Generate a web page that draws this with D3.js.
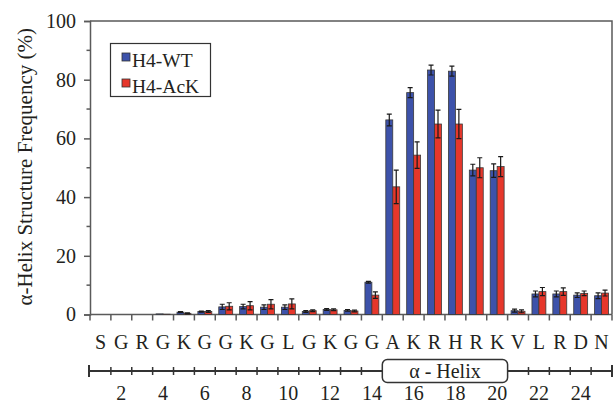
<!DOCTYPE html>
<html>
<head>
<meta charset="utf-8">
<script src="https://cdn.jsdelivr.net/npm/d3@7"></script>
<style>
  body { margin: 0; background: #fff; }
  text { font-family: "Liberation Serif", "Times New Roman", serif; fill: #231f20; }
</style>
</head>
<body>
<script>
var width = 614;
var height = 404;

// residues of the H4 tail, 1..25
var residues = ["S","G","R","G","K","G","G","K","G","L","G","K","G","G","A","K","R","H","R","K","V","L","R","D","N"];
var seriesNames = ["H4-WT", "H4-AcK"];
var wtValues  = [0, 0, 0, 0.2, 0.8, 1.0, 2.6, 2.7, 2.5, 2.5, 1.0, 1.7, 1.4, 11.0, 66.3, 75.6, 83.3, 82.9, 49.2, 49.0, 1.3, 7.0, 7.0, 6.6, 6.4];
var wtErrors  = [0, 0, 0, 0, 0.2, 0.2, 0.9, 0.8, 0.8, 0.8, 0.3, 0.3, 0.3, 0.3, 2.0, 1.7, 1.7, 1.7, 2.0, 2.3, 0.5, 1.0, 1.0, 0.8, 1.0];
var ackValues = [0, 0, 0, 0.1, 0.4, 1.0, 2.8, 3.0, 3.5, 3.6, 1.3, 1.6, 1.2, 6.6, 43.5, 54.3, 64.9, 64.9, 50.0, 50.4, 1.1, 7.8, 7.8, 7.2, 7.3];
var ackErrors = [0, 0, 0, 0, 0.2, 0.3, 1.2, 1.4, 1.6, 1.7, 0.3, 0.3, 0.3, 1.1, 5.7, 4.5, 4.7, 5.0, 3.4, 3.4, 0.5, 1.4, 1.3, 0.8, 1.0];
var yTicks = [0, 20, 40, 60, 80, 100];
var yMinorTicks = [10, 30, 50, 70, 90];
var numberLabels = [2, 4, 6, 8, 10, 12, 14, 16, 18, 20, 22, 24];
var helixRange = [15, 20];

var colors = {"H4-WT": "#3d52aa", "H4-AcK": "#e6372b"};
var axisColor = "#5a5a5a";

var plotLeft = 90, plotRight = 612, plotTop = 21, plotBottom = 314.5;

var svg = d3.select("body").append("svg")
    .attr("width", width)
    .attr("height", height);

var positions = d3.range(1, residues.length + 1);
var x = d3.scaleBand().domain(positions).range([plotLeft, plotRight]).padding(0);
var x1 = d3.scaleBand().domain(seriesNames).range([0, x.bandwidth()]).paddingInner(0).paddingOuter(0.5);
var y = d3.scaleLinear().domain([0, 100]).range([plotBottom, plotTop]);

// frame: top and right borders
svg.append("path")
    .attr("d", "M" + plotLeft + "," + plotTop + "H" + plotRight + "V" + plotBottom)
    .attr("fill", "none").attr("stroke", axisColor).attr("stroke-width", 1.5);

// y axis
var yAxis = svg.append("g").attr("transform", "translate(" + plotLeft + ",0)")
    .call(d3.axisLeft(y).tickValues(yTicks).tickSize(6).tickPadding(8).tickFormat(d3.format("d")));
yAxis.select(".domain").attr("stroke", axisColor).attr("stroke-width", 1.5);
yAxis.selectAll(".tick line").attr("stroke", axisColor).attr("stroke-width", 1.5);
yAxis.selectAll(".tick text").style("font-size", "20px").style("font-family", "Liberation Serif").attr("fill", "#231f20");
yAxis.selectAll(".minor").data(yMinorTicks).enter().append("line")
    .attr("x1", -3.5).attr("x2", 0)
    .attr("y1", function(d){ return y(d); }).attr("y2", function(d){ return y(d); })
    .attr("stroke", axisColor).attr("stroke-width", 1.5);

// x baseline with ticks at category boundaries
var boundaries = d3.range(0, residues.length + 1);
var xb = d3.scaleLinear().domain([0, residues.length]).range([plotLeft, plotRight]);
svg.append("line").attr("x1", plotLeft).attr("x2", plotRight).attr("y1", plotBottom).attr("y2", plotBottom)
    .attr("stroke", axisColor).attr("stroke-width", 1.5);
svg.selectAll(".xtick").data(boundaries).enter().append("line")
    .attr("x1", function(d){ return xb(d); }).attr("x2", function(d){ return xb(d); })
    .attr("y1", plotBottom).attr("y2", plotBottom + 6)
    .attr("stroke", axisColor).attr("stroke-width", 1.5);

// bars
var rows = residues.map(function(r, i) {
  return {pos: i + 1, vals: [
    {name: "H4-WT", v: wtValues[i], e: wtErrors[i]},
    {name: "H4-AcK", v: ackValues[i], e: ackErrors[i]}
  ]};
});

var groups = svg.selectAll(".grp").data(rows).enter().append("g")
    .attr("transform", function(d){ return "translate(" + x(d.pos) + ",0)"; });

groups.selectAll("rect").data(function(d){ return d.vals.filter(function(v){ return v.v > 0; }); })
  .enter().append("rect")
    .attr("x", function(d){ return x1(d.name); })
    .attr("width", x1.bandwidth())
    .attr("y", function(d){ return y(d.v); })
    .attr("height", function(d){ return y(0) - y(d.v); })
    .attr("fill", function(d){ return colors[d.name]; })
    .attr("stroke", "#3a3a3a").attr("stroke-width", 0.8);

var errs = groups.selectAll(".err").data(function(d){ return d.vals.filter(function(v){ return v.e > 0; }); })
  .enter().append("g");
errs.append("path")
    .attr("d", function(d){
      var cx = x1(d.name) + x1.bandwidth() / 2;
      var t = y(d.v + d.e), b = y(Math.max(0, d.v - d.e));
      return "M" + (cx - 2.5) + "," + t + "H" + (cx + 2.5) +
             "M" + cx + "," + t + "V" + b +
             "M" + (cx - 2.5) + "," + b + "H" + (cx + 2.5);
    })
    .attr("fill", "none").attr("stroke", "#1a1a1a").attr("stroke-width", 1.2);

// residue letters
svg.selectAll(".res").data(rows).enter().append("text")
    .attr("x", function(d){ return x(d.pos) + x.bandwidth() / 2; })
    .attr("y", 348.5)
    .attr("text-anchor", "middle")
    .style("font-size", "20px")
    .text(function(d){ return residues[d.pos - 1]; });

// numbered residue line
var lineY = 371;
svg.append("line").attr("x1", plotLeft - 1).attr("x2", plotRight).attr("y1", lineY).attr("y2", lineY)
    .attr("stroke", "#333").attr("stroke-width", 2);
[plotLeft - 1, plotRight].forEach(function(px) {
  svg.append("line").attr("x1", px).attr("x2", px).attr("y1", lineY - 6).attr("y2", lineY + 6)
      .attr("stroke", "#333").attr("stroke-width", 2);
});
svg.selectAll(".ntick").data(d3.range(1, residues.length).filter(function(b){ return b < helixRange[0] - 1 || b > helixRange[1]; }))
  .enter().append("line")
    .attr("x1", function(d){ return xb(d); }).attr("x2", function(d){ return xb(d); })
    .attr("y1", lineY - 4).attr("y2", lineY + 4)
    .attr("stroke", "#333").attr("stroke-width", 1.5);

svg.append("rect")
    .attr("x", xb(helixRange[0] - 1)).attr("y", 359.5)
    .attr("width", xb(helixRange[1]) - xb(helixRange[0] - 1)).attr("height", 23)
    .attr("rx", 5).attr("ry", 5)
    .attr("fill", "#fff").attr("stroke", "#333").attr("stroke-width", 1.5);
svg.append("text")
    .attr("x", (xb(helixRange[0] - 1) + xb(helixRange[1])) / 2).attr("y", 378)
    .attr("text-anchor", "middle").style("font-size", "20px")
    .text("α - Helix");

svg.selectAll(".num").data(numberLabels).enter().append("text")
    .attr("x", function(d){ return x(d) + x.bandwidth() / 2; })
    .attr("y", 400)
    .attr("text-anchor", "middle")
    .style("font-size", "20px")
    .text(function(d){ return d; });

// y axis title
svg.append("text")
    .attr("transform", "translate(32," + ((plotTop + plotBottom) / 2 - 1) + ") rotate(-90)")
    .attr("text-anchor", "middle")
    .style("font-size", "21px")
    .text("α-Helix Structure Frequency (%)");

// legend
var legend = svg.append("g");
legend.append("rect").attr("x", 110.5).attr("y", 43.5).attr("width", 100).attr("height", 53)
    .attr("fill", "#fff").attr("stroke", "#333").attr("stroke-width", 1.2);
var items = legend.selectAll(".item").data(seriesNames).enter().append("g")
    .attr("transform", function(d, i){ return "translate(122," + (53 + i * 26) + ")"; });
items.append("rect").attr("width", 8).attr("height", 8)
    .attr("fill", function(d){ return colors[d]; })
    .attr("stroke", "#333").attr("stroke-width", 0.8);
items.append("text").attr("x", 10).attr("y", 13.5)
    .style("font-size", "19.5px")
    .text(function(d){ return d; });
</script>
</body>
</html>
